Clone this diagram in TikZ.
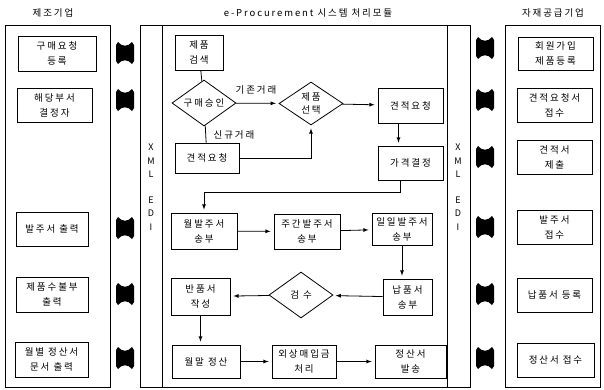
\documentclass[tikz,border=0pt]{standalone}
\usepackage{fontspec}
\setmainfont[LetterSpace=20]{Noto Sans CJK KR}
\usetikzlibrary{arrows,shapes.geometric,calc}
\tikzstyle{bx}=[rectangle,draw=black,line width=0.8pt,align=center,
  inner sep=0pt,font=\fontsize{9.5}{15}\selectfont]
\tikzstyle{dm}=[diamond,draw=black,line width=0.8pt,align=center,
  inner sep=0pt,aspect=1.4,font=\fontsize{9.5}{13}\selectfont]
\tikzstyle{lbl}=[inner sep=1pt,font=\fontsize{9.5}{13}\selectfont]
\tikzstyle{pnl}=[draw=black,line width=0.8pt]
\tikzstyle{ar}=[->,>=latex,line width=0.8pt,shorten >=3pt]
\newcommand{\linkarrow}[1]{%
  \begin{scope}[shift={#1}]
    \fill (-9,-8) -- (-7,-11) .. controls (-3,-6) and (3,-6) .. (7,-11) -- (9,-8)
      -- (9,8) -- (7,11) .. controls (3,6) and (-3,6) .. (-7,11) -- (-9,8) -- cycle;
  \end{scope}}

\begin{document}
\begin{tikzpicture}[x=1pt,y=-1pt]
        \useasboundingbox (0,0) rectangle (604,389);
        % titles
        \node[lbl] (t0) at (53,13) {제조기업};
        \node[lbl] (t1) at (308,13) {e-Procurement 시스템 처리모듈};
        \node[lbl] (t2) at (553,13) {자재공급기업};
        % panels
        \draw[pnl] (5,25) rectangle (110,387);
        \draw[pnl] (140,25) rectangle (470,387);
        \draw[pnl] (162,25) -- (162,387);
        \draw[pnl] (447,25) -- (447,387);
        \draw[pnl] (505,25) rectangle (600,387);
        \node[lbl,align=center,font=\fontsize{9}{13.5}\selectfont] (x0) at (151,187) {X\\M\\L\\[12pt]E\\D\\I};
        \node[lbl,align=center,font=\fontsize{9}{13.5}\selectfont] (x1) at (458,187) {X\\M\\L\\[12pt]E\\D\\I};
        % manufacturer
        \node[style=bx,minimum width=78,minimum height=35] (0) at (57,53.5) {구매요청\\등록};
		\node[style=bx,minimum width=75,minimum height=34] (1) at (54.5,105) {해당부서\\결정자};
		\node[style=bx,minimum width=72,minimum height=34] (2) at (52,229) {발주서 출력};
		\node[style=bx,minimum width=72,minimum height=35] (3) at (52,294.5) {제품수불부\\출력};
		\node[style=bx,minimum width=73,minimum height=35] (4) at (51.5,359.5) {월별 정산서\\문서 출력};
        % supplier
		\node[style=bx,minimum width=75,minimum height=33] (5) at (555.5,53.5) {회원가입\\제품등록};
		\node[style=bx,minimum width=75,minimum height=34] (6) at (554.5,105) {견적요청서\\접수};
		\node[style=bx,minimum width=75,minimum height=34] (7) at (554.5,157) {견적서\\제출};
		\node[style=bx,minimum width=75,minimum height=34] (8) at (554.5,227) {발주서\\접수};
		\node[style=bx,minimum width=75,minimum height=34] (9) at (554.5,295) {납품서 등록};
		\node[style=bx,minimum width=77,minimum height=34] (10) at (555.5,360) {정산서 접수};
        % e-procurement module
		\node[style=bx,minimum width=48,minimum height=35] (11) at (199,52.5) {제품\\검색};
		\node[style=dm,minimum width=64,minimum height=46] (12) at (204,103) {구매승인};
		\node[style=dm,minimum width=64,minimum height=43] (13) at (311,103.5) {제품\\선택};
		\node[style=bx,minimum width=65,minimum height=35] (14) at (410.5,105.5) {견적요청};
		\node[style=bx,minimum width=65,minimum height=34] (15) at (410.5,163) {가격결정};
		\node[style=bx,minimum width=64,minimum height=30] (16) at (207,158) {견적요청};
		\node[style=bx,minimum width=66,minimum height=36] (17) at (204,231) {월발주서\\송부};
		\node[style=bx,minimum width=66,minimum height=35] (18) at (307,231.5) {주간발주서\\송부};
		\node[style=bx,minimum width=60,minimum height=32] (19) at (402,229) {일일발주서\\송부};
		\node[style=bx,minimum width=49,minimum height=36] (20) at (407.5,297) {납품서\\송부};
		\node[style=dm,minimum width=64,minimum height=46] (21) at (301,295) {검 수};
		\node[style=bx,minimum width=59,minimum height=37] (22) at (200.5,296.5) {반품서\\작성};
		\node[style=bx,minimum width=68,minimum height=33] (23) at (206,361.5) {월말 정산};
		\node[style=bx,minimum width=64,minimum height=33] (24) at (304,361.5) {외상매입금\\처리};
		\node[style=bx,minimum width=71,minimum height=33] (25) at (410.5,361.5) {정산서\\발송};
        \node[lbl] (l0) at (256,90) {기존거래};
        \node[lbl] (l1) at (234,135) {신규거래};
        % flow
        \draw[line width=0.8pt] (11) to (12);
		\draw[style=ar] (12) to (13);
		\draw[line width=0.8pt] (12) to (16);
		\draw[style=ar] (16.east) -| (13.south);
		\draw[style=ar] (13) to (14);
		\draw[style=ar] ([xshift=-12pt]14.south) to ([xshift=-12pt]15.north);
		\draw[style=ar] ([xshift=-10pt]15.south) -- ++(0,12) -| (17.north);
		\draw[style=ar] (17) to (18);
		\draw[style=ar] (18) to (19);
		\draw[style=ar] (19.south) to (19.south |- 20.north);
		\draw[style=ar] (20) to (21);
		\draw[style=ar] (21) to (22);
		\draw[style=ar] (22.south) to (22.south |- 23.north);
		\draw[style=ar] (23) to (24);
		\draw[style=ar] (24) to (25);
        % XML/EDI links
        \foreach \y in {53,100,228,294,358} {\linkarrow{(125,\y)}}
        \foreach \y in {48,100,157,227,294,358} {\linkarrow{(485,\y)}}
    \end{tikzpicture}
\end{document}
